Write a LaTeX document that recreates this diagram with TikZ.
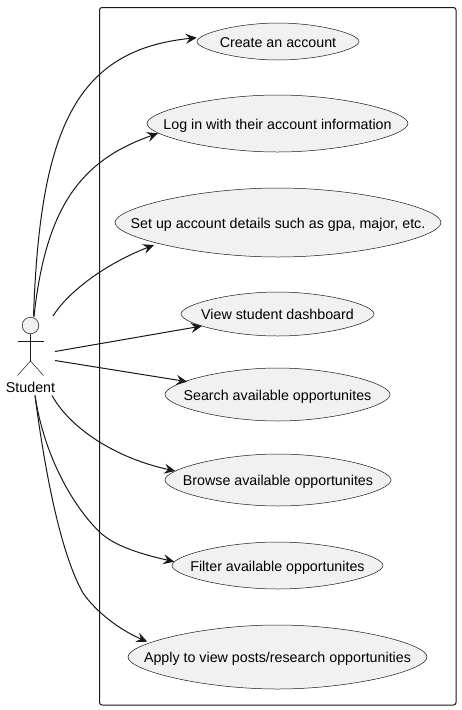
\documentclass[tikz,border=0pt]{standalone}
\usepackage{fontspec}
\setmainfont{Liberation Sans}
\usetikzlibrary{shapes.geometric,arrows.meta}
\definecolor{uline}{HTML}{181818}
\definecolor{ufill}{HTML}{F1F1F1}
\newcommand{\usecaseshape}[6]{%
  \draw[ucoutline] ({#2-#4},#3)
    .. controls +(0,{-0.42*#5}) and +({-0.5*#4},0) .. ({#2},{#3-#5})
    .. controls +({0.5*#4},0) and +(0,{-0.42*#5}) .. ({#2+#4},#3)
    .. controls +(0,{0.42*#5}) and +({0.5*#4},0) .. ({#2},{#3+#5})
    .. controls +({-0.5*#4},0) and +(0,{0.42*#5}) .. cycle;
  \node[uclabel] (#1) at (#2,#3) {\makebox[0pt]{\raisebox{-5.5pt}[0pt][0pt]{#6}}};%
}
\tikzset{
  ucoutline/.style={draw=uline,line width=0.5pt,fill=ufill},
  uclabel/.style={inner sep=0pt,outer sep=0pt,text=black,font=\fontsize{14.25}{16}\selectfont},
  link/.style={draw=uline,line width=1pt,-{Stealth[length=11pt,width=10pt,inset=4pt]}},
  stick/.style={draw=uline,line width=0.5pt},
}
\begin{document}
\begin{tikzpicture}[x=1pt,y=-1pt]
\useasboundingbox (0,0) rectangle (461,710);
\fill[white] (0,0) rectangle (461,710);
\draw[uline,line width=1pt,rounded corners=2.5pt] (99.5,7.5) rectangle (456,705);

\usecaseshape{create}{278}{41.5}{81}{18.5}{Create an account}
\usecaseshape{login}{277.5}{123.5}{130.5}{28.5}{Log in with their account information}
\usecaseshape{setup}{278}{222.5}{163}{34.5}{Set up account details such as gpa, major, etc.}
\usecaseshape{view}{277.5}{314}{96.5}{22}{View student dashboard}
\usecaseshape{search}{277.5}{394.5}{112.5}{26.5}{Search available opportunites}
\usecaseshape{browse}{278}{480}{113}{26}{Browse available opportunites}
\usecaseshape{filter}{277.5}{565.5}{105.5}{23.5}{Filter available opportunites}
\usecaseshape{apply}{277.5}{657}{149.5}{32}{Apply to view posts/research opportunities}

% actor
\node[circle,draw=uline,line width=0.5pt,fill=ufill,minimum size=16.6pt,inner sep=0pt,outer sep=0pt] (head) at (30.5,325.5) {};
\coordinate (hip) at (30.5,361);
\coordinate (armL) at (17.5,341.5);
\coordinate (armR) at (44,341.5);
\coordinate (footL) at (17.5,375.5);
\coordinate (footR) at (43.5,375.5);
\draw[stick] (head.south) -- (hip);
\draw[stick] (armL) -- (armR);
\draw[stick] (footL) -- (hip) -- (footR);
\node[font=\fontsize{14.25}{16}\selectfont,inner sep=0pt] (student) at (30.5,387) {Student};

% free ends near actor
\coordinate (a1) at (33.5,316.5);
\coordinate (a2) at (34,316.5);
\coordinate (a3) at (53,316);
\coordinate (a4) at (55,351.5);
\coordinate (a5) at (55,360.5);
\coordinate (a6) at (52,395.5);
\coordinate (a7) at (35,395.5);
\coordinate (a8) at (35,395.5);

\draw[link] (a1) .. controls (40,130) and (75,50) .. ([shift={(-81.3,-3.8)}]create.center);
\draw[link] (a2) .. controls (46,205) and (82,160) .. ([shift={(-119.5,9.8)}]login.center);
\draw[link] (a3) .. controls (68,292) and (105,264) .. ([shift={(-124,22.5)}]setup.center);
\draw[link] (a4) -- ([shift={(-75.5,12)}]view.center);
\draw[link] (a5) -- ([shift={(-90.2,-12.8)}]search.center);
\draw[link] (a6) .. controls (70,428) and (115,458) .. ([shift={(-102.7,-9)}]browse.center);
\draw[link] (a7) .. controls (44,455) and (72,505) .. (99.3,531.7) .. controls (115,547) and (145,555) .. ([shift={(-103.2,-3.8)}]filter.center);
\draw[link] (a8) .. controls (46,480) and (62,556) .. (83,593) .. controls (96,612) and (120,630) .. ([shift={(-130.2,-15.3)}]apply.center);
\end{tikzpicture}
\end{document}
